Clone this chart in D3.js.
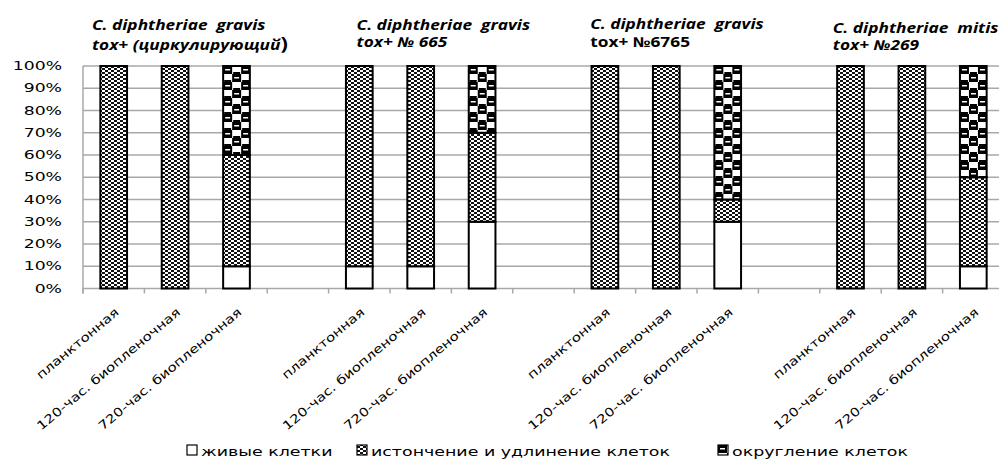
<!DOCTYPE html>
<html>
<head>
<meta charset="utf-8">
<script src="https://cdn.jsdelivr.net/npm/d3@7"></script>
<style>
  body { margin: 0; background: #fff; }
  text { fill: #000; }
</style>
</head>
<body>
<svg id="chart" width="999" height="467"></svg>
<script>
// ---- data ----
const strainLine1 = ["C. diphtheriae  gravis", "C. diphtheriae  gravis", "C. diphtheriae  gravis", "C. diphtheriae  mitis"];
const strainLine2 = ["tox+ (циркулирующий", "tox+ № 665", "tox+ №6765", "tox+ №269"];
const stages = ["планктонная", "120-час. биопленочная", "720-час. биопленочная"];
const seriesNames = ["живые клетки", "истончение и удлинение клеток", "округление клеток"];
// percentages per bar, in order: strain 1 (3 stages), strain 2, strain 3, strain 4
const liveCells = [0, 0, 10, 10, 10, 30, 0, 0, 30, 0, 0, 10];
const thinning  = [100, 100, 50, 90, 90, 40, 100, 100, 10, 100, 100, 40];
const rounding  = [0, 0, 40, 0, 0, 30, 0, 0, 60, 0, 0, 50];
const yTicks = [0, 10, 20, 30, 40, 50, 60, 70, 80, 90, 100];

// ---- layout ----
const W = 999, H = 467;
const plot = { left: 83, right: 1004, top: 66, bottom: 288.5 };
const SX = 1.5;             // horizontal stretch of the axis lettering
const titleDx = [9, 28, 16, 13];
const titleY1 = [30, 29.5, 29, 32.5];
const titleY2 = [50, 47, 47, 50];

const svg = d3.select("#chart");
const defs = svg.append("defs");

// fine checker for "истончение"
const thin = defs.append("pattern").attr("id", "pThin")
  .attr("patternUnits", "userSpaceOnUse").attr("width", 6).attr("height", 4);
thin.append("rect").attr("width", 6).attr("height", 4).attr("fill", "#fff");
thin.append("rect").attr("x", 0).attr("y", 0).attr("width", 3).attr("height", 2).attr("fill", "#111");
thin.append("rect").attr("x", 3).attr("y", 2).attr("width", 3).attr("height", 2).attr("fill", "#111");

// coarse "sphere" checker for "округление"
function spherePattern(id, x0, y0) {
  const p = defs.append("pattern").attr("id", id)
    .attr("patternUnits", "userSpaceOnUse").attr("width", 18).attr("height", 16)
    .attr("patternTransform", `translate(${x0},${y0})`);
  p.append("rect").attr("width", 18).attr("height", 16).attr("fill", "#fff");
  p.append("rect").attr("x", 0).attr("y", 0).attr("width", 9).attr("height", 8).attr("fill", "#000");
  p.append("rect").attr("x", 9).attr("y", 8).attr("width", 9).attr("height", 8).attr("fill", "#000");
  // highlights inside the dark cells, dark dashes inside the light cells
  p.append("rect").attr("x", 2).attr("y", 3).attr("width", 5).attr("height", 1.5).attr("fill", "#fff");
  p.append("rect").attr("x", 11).attr("y", 11).attr("width", 5).attr("height", 1.5).attr("fill", "#fff");
  p.append("rect").attr("x", 10).attr("y", 6).attr("width", 7).attr("height", 2).attr("fill", "#000");
  p.append("rect").attr("x", 1).attr("y", 14).attr("width", 7).attr("height", 2).attr("fill", "#000");
  return `url(#${id})`;
}

// ---- scales ----
const nSlots = strainLine1.length * 4 - 1;
const x = d3.scaleBand().domain(d3.range(nSlots)).range([plot.left, plot.right]).padding(0);
const y = d3.scaleLinear().domain([0, 100]).range([plot.bottom, plot.top]);
const barW = x.bandwidth() * 0.435;

// bar records
const bars = liveCells.map((v, i) => {
  const g = Math.floor(i / 3), s = i % 3;
  return { i, g, s, slot: g * 4 + s, live: v, thin: thinning[i], round: rounding[i] };
});
const stack = d3.stack().keys(["live", "thin", "round"])(bars);

// ---- grid ----
svg.append("g").selectAll("line").data(yTicks).join("line")
  .attr("x1", plot.left).attr("x2", W)
  .attr("y1", d => y(d)).attr("y2", d => y(d))
  .attr("stroke", "#a8a8a8").attr("stroke-width", 1.5);
svg.append("line").attr("x1", plot.left).attr("x2", plot.left)
  .attr("y1", plot.top).attr("y2", plot.bottom + 5)
  .attr("stroke", "#a8a8a8").attr("stroke-width", 1.5);
// category tick marks
svg.append("g").selectAll("line").data(d3.range(nSlots + 1)).join("line")
  .attr("x1", d => plot.left + d * x.step()).attr("x2", d => plot.left + d * x.step())
  .attr("y1", plot.bottom).attr("y2", plot.bottom + 5)
  .attr("stroke", "#a8a8a8").attr("stroke-width", 1.5);

// y labels
svg.append("g").selectAll("text").data(yTicks).join("text")
  .attr("transform", d => `translate(62,${y(d)}) scale(${SX},1)`)
  .attr("dy", "0.36em").attr("text-anchor", "end")
  .style("font-family", "DejaVu Sans").style("font-size", "11.5px")
  .text(d => d + "%");

// ---- bars ----
stack.forEach((layer, k) => {
  svg.append("g").selectAll("rect").data(layer.filter(d => d[1] - d[0] > 0)).join("rect")
    .attr("x", d => x(d.data.slot) + (x.bandwidth() - barW) / 2)
    .attr("width", barW)
    .attr("y", d => y(d[1]))
    .attr("height", d => y(d[0]) - y(d[1]))
    .attr("fill", d => k === 0 ? "#fff" : k === 1 ? "url(#pThin)"
      : spherePattern("pRound" + d.data.i, x(d.data.slot) + (x.bandwidth() - barW) / 2, y(100)))
    .attr("stroke", "#000").attr("stroke-width", 2);
});

// ---- category labels ----
svg.append("g").selectAll("text").data(bars).join("text")
  .attr("transform", d => `translate(${x(d.slot) + x.bandwidth() / 2 + 6},${plot.bottom + 25}) rotate(-40) scale(1.25,1)`)
  .attr("text-anchor", "end")
  .style("font-family", "DejaVu Sans").style("font-size", "12px")
  .text(d => stages[d.s]);

// ---- strain titles ----
strainLine1.forEach((t, g) => {
  const x0 = x(g * 4) + titleDx[g];
  svg.append("text")
    .attr("transform", `translate(${x0},${titleY1[g]}) scale(1.28,1)`)
    .style("font-family", "Open Sans").style("font-weight", "bold").style("font-style", "italic")
    .style("font-size", "13.5px").style("white-space", "pre")
    .text(t);

  const t2 = svg.append("text")
    .attr("transform", `translate(${x0},${titleY2[g]}) scale(1.28,1)`)
    .style("font-family", "Open Sans").style("font-weight", "bold")
    .style("font-style", g === 2 ? "normal" : "italic")
    .style("font-size", "13.5px");
  t2.append("tspan").text(strainLine2[g]);
  if (g === 0) t2.append("tspan").style("font-style", "normal").style("font-size", "17px").text(")");
});

// ---- legend ----
const legendX = [187, 357, 718];
const legendY = 445;
const lg = svg.append("g");
seriesNames.forEach((name, k) => {
  const fill = k === 0 ? "#fff" : k === 1 ? "url(#pThin)" : spherePattern("pLegend", legendX[k], legendY);
  lg.append("rect").attr("x", legendX[k]).attr("y", legendY).attr("width", 10).attr("height", 10)
    .attr("fill", fill).attr("stroke", "#000").attr("stroke-width", 1.2);
  lg.append("text")
    .attr("transform", `translate(${legendX[k] + 14},${legendY + 11}) scale(1.45,1)`)
    .style("font-family", "DejaVu Sans").style("font-size", "12px")
    .text(name);
});
</script>
</body>
</html>
